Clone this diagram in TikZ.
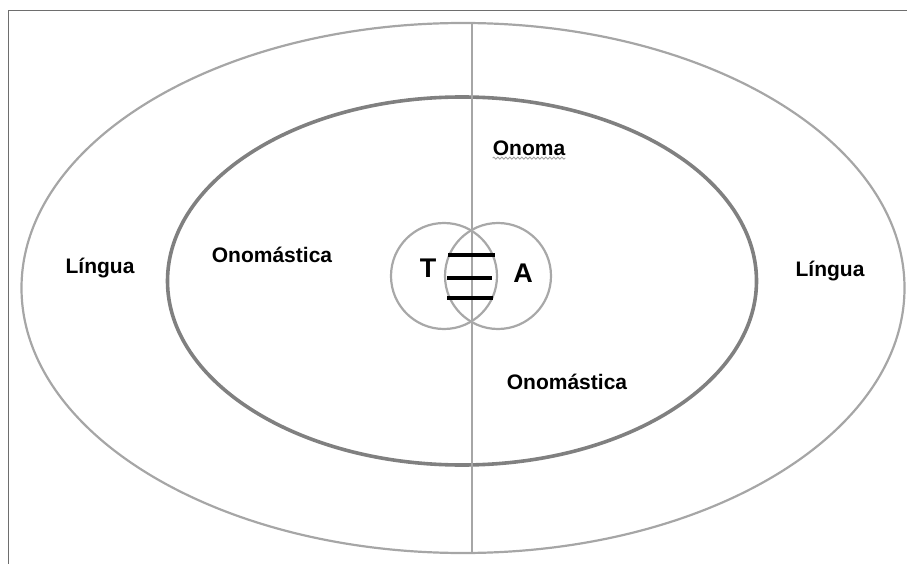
\documentclass[tikz,border=0pt]{standalone}
\usepackage{fontspec}
\setmainfont{Liberation Sans}
\usetikzlibrary{decorations.pathmorphing}
\definecolor{framec}{HTML}{6E6E6E}
\definecolor{outerc}{HTML}{A6A6A6}
\definecolor{innerc}{HTML}{808080}
\definecolor{circc}{HTML}{A8A8A8}
\definecolor{wavec}{HTML}{A0A0A0}
\tikzset{
  lbl/.style={font=\fontsize{21}{23}\selectfont\bfseries, inner sep=0pt},
  big/.style={font=\fontsize{27}{29}\selectfont\bfseries, inner sep=0pt},
  bar/.style={line width=3.2pt, black},
}
\begin{document}
\begin{tikzpicture}[x=1pt,y=-1pt]
\useasboundingbox (0,0) rectangle (907,564);
% frame
\draw[framec, line width=1.5pt] (8.5,570) -- (8.5,10.5) -- (910,10.5);
% outer ellipse
\draw[outerc, line width=2.2pt] (463,288) ellipse [x radius=441.5, y radius=265];
% inner ellipse
\draw[innerc, line width=3.6pt] (462,281) ellipse [x radius=294.5, y radius=184];
% vertical line
\coordinate (vt) at (472.3,23);
\coordinate (vb) at (472.3,553);
\draw[outerc, line width=2pt] (vt) -- (vb);
% circles
\draw[circc, line width=2.2pt] (444,276) circle [radius=53];
\draw[circc, line width=2.2pt] (498,276) circle [radius=53];
% bars
\coordinate (b1l) at (448,255); \coordinate (b1r) at (495,255);
\coordinate (b2l) at (447,278); \coordinate (b2r) at (492,278);
\coordinate (b3l) at (447,298); \coordinate (b3r) at (493,298);
\draw[bar] (b1l) -- (b1r);
\draw[bar] (b2l) -- (b2r);
\draw[bar] (b3l) -- (b3r);
% letters
\node[big] (T) at (428,268) {T};
\node[big] (A) at (523,273) {A};
% labels
\node[lbl] (lingL) at (100,268) {Língua};
\node[lbl] (onomL) at (272,255) {Onomástica};
\node[lbl] (onoma) at (529,148) {Onoma};
\node[lbl] (lingR) at (830,271) {Língua};
\node[lbl] (onomR) at (567,382) {Onomástica};
\draw[wavec, line width=0.9pt, decorate, decoration={snake, amplitude=1pt, segment length=4pt}]
  ([yshift=-2.5pt]onoma.south west) -- ([yshift=-2.5pt]onoma.south east);
\end{tikzpicture}
\end{document}
